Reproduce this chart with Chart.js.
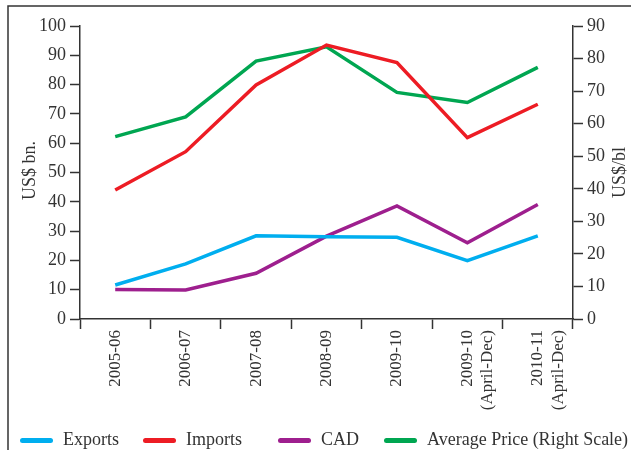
<!DOCTYPE html>
<html>
<head>
<meta charset="utf-8">
<script src="https://cdn.jsdelivr.net/npm/chart.js@4"></script>
<style>
  html, body { margin: 0; padding: 0; background: #fff; }
  #wrap { position: relative; width: 631px; height: 450px; overflow: hidden; }
  #legend { position: absolute; left: 20px; top: 429px; white-space: nowrap;
    font-family: "Liberation Serif", serif; font-size: 18px; color: #333; }
  #legend span.item { display: inline-block; }
  #legend span.sw { display: inline-block; width: 33px; height: 5px; border-radius: 3px;
    vertical-align: middle; margin-right: 10px; }
</style>
</head>
<body>
<div id="wrap">
  <canvas id="tradeChart" width="631" height="450"></canvas>
  <div id="legend"></div>
</div>
<script>
'use strict';

//Chart data
const years = [
  '2005-06',
  '2006-07',
  '2007-08',
  '2008-09',
  '2009-10',
  ['2009-10', '(April-Dec)'],
  ['2010-11', '(April-Dec)'],
];

const exportsBn = [11.6, 18.8, 28.4, 28.1, 27.9, 19.9, 28.4];
const importsBn = [44.0, 57.1, 79.9, 93.5, 87.5, 61.9, 73.3];
const cadBn = [10.1, 9.9, 15.6, 28.3, 38.6, 26.0, 39.1];
const avgPrice = [56.0, 62.1, 79.2, 83.6, 69.6, 66.5, 77.3];

const leftTicks = [0, 10, 20, 30, 40, 50, 60, 70, 80, 90, 100];
const rightTicks = [0, 10, 20, 30, 40, 50, 60, 70, 80, 90];

const axisColor = '#333';
const fontFamily = '"Liberation Serif", serif';

//Frame and rotated axis titles
const framePlugin = {
  id: 'frame',
  afterDraw(chart) {
    const ctx = chart.ctx;
    const area = chart.chartArea;
    const midY = (area.top + area.bottom) / 2;
    ctx.save();
    ctx.strokeStyle = axisColor;
    ctx.lineWidth = 1.5;
    ctx.beginPath();
    ctx.moveTo(8, 450);
    ctx.lineTo(8, 6);
    ctx.lineTo(640, 6);
    ctx.stroke();

    ctx.fillStyle = axisColor;
    ctx.font = '18px ' + fontFamily;
    ctx.textAlign = 'center';
    ctx.textBaseline = 'middle';
    ctx.translate(30, midY - 2);
    ctx.rotate(-Math.PI / 2);
    ctx.fillText('US$ bn.', 0, 0);
    ctx.restore();

    ctx.save();
    ctx.fillStyle = axisColor;
    ctx.font = '18px ' + fontFamily;
    ctx.textAlign = 'center';
    ctx.textBaseline = 'middle';
    ctx.translate(620, midY);
    ctx.rotate(-Math.PI / 2);
    ctx.fillText('US$/bl', 0, 0);
    ctx.restore();
  },
};

const tradeData = {
  labels: years,
  datasets: [
    {
      label: 'Exports',
      data: exportsBn,
      borderColor: 'rgb(0, 174, 239)',
      backgroundColor: 'rgb(0, 174, 239)',
      yAxisID: 'y',
    },
    {
      label: 'Imports',
      data: importsBn,
      borderColor: 'rgb(237, 28, 36)',
      backgroundColor: 'rgb(237, 28, 36)',
      yAxisID: 'y',
    },
    {
      label: 'CAD',
      data: cadBn,
      borderColor: 'rgb(158, 31, 142)',
      backgroundColor: 'rgb(158, 31, 142)',
      yAxisID: 'y',
    },
    {
      label: 'Average Price (Right Scale)',
      data: avgPrice,
      borderColor: 'rgb(0, 166, 81)',
      backgroundColor: 'rgb(0, 166, 81)',
      yAxisID: 'y1',
    },
  ],
};

const tradeConfig = {
  type: 'line',
  data: tradeData,
  options: {
    responsive: false,
    animation: false,
    layout: { padding: { left: 10, right: 0, top: 26, bottom: 0 } },
    elements: {
      line: { borderWidth: 3.5, tension: 0, borderJoinStyle: 'miter' },
      point: { radius: 0 },
    },
    plugins: {
      legend: { display: false },
      tooltip: { enabled: false },
    },
    scales: {
      x: {
        offset: true,
        grid: {
          offset: true,
          drawOnChartArea: false,
          drawTicks: true,
          tickLength: 10,
          tickWidth: 1.5,
          tickColor: axisColor,
        },
        border: { color: axisColor, width: 1.5 },
        ticks: {
          minRotation: 90,
          maxRotation: 90,
          autoSkip: false,
          padding: 1,
          color: axisColor,
          font: { family: fontFamily, size: 17 },
        },
        afterFit(scale) { scale.height = 131; },
      },
      y: {
        position: 'left',
        min: 0,
        max: 100,
        afterBuildTicks(scale) { scale.ticks = leftTicks.map(v => ({ value: v })); },
        grid: {
          drawOnChartArea: false,
          tickLength: 10,
          tickWidth: 1.5,
          tickColor: axisColor,
        },
        border: { color: axisColor, width: 1.5 },
        ticks: {
          padding: 4,
          color: axisColor,
          font: { family: fontFamily, size: 18 },
        },
        afterFit(scale) { scale.width = 70; },
      },
      y1: {
        position: 'right',
        min: 0,
        max: 90,
        afterBuildTicks(scale) { scale.ticks = rightTicks.map(v => ({ value: v })); },
        grid: {
          drawOnChartArea: false,
          tickLength: 10,
          tickWidth: 1.5,
          tickColor: axisColor,
        },
        border: { color: axisColor, width: 1.5 },
        ticks: {
          padding: 4,
          color: axisColor,
          font: { family: fontFamily, size: 18 },
        },
        afterFit(scale) { scale.width = 58; },
      },
    },
  },
  plugins: [framePlugin],
};

const tradeChart = new Chart(
  document.getElementById('tradeChart'),
  tradeConfig
);

//Legend built from the datasets, spaced like the original
const legendGaps = [24, 36, 25, 0];
const legendBox = document.getElementById('legend');
tradeChart.data.datasets.forEach((ds, i) => {
  const item = document.createElement('span');
  item.className = 'item';
  item.style.marginRight = legendGaps[i] + 'px';
  const sw = document.createElement('span');
  sw.className = 'sw';
  sw.style.background = ds.borderColor;
  item.appendChild(sw);
  item.appendChild(document.createTextNode(ds.label));
  legendBox.appendChild(item);
});
</script>
</body>
</html>
